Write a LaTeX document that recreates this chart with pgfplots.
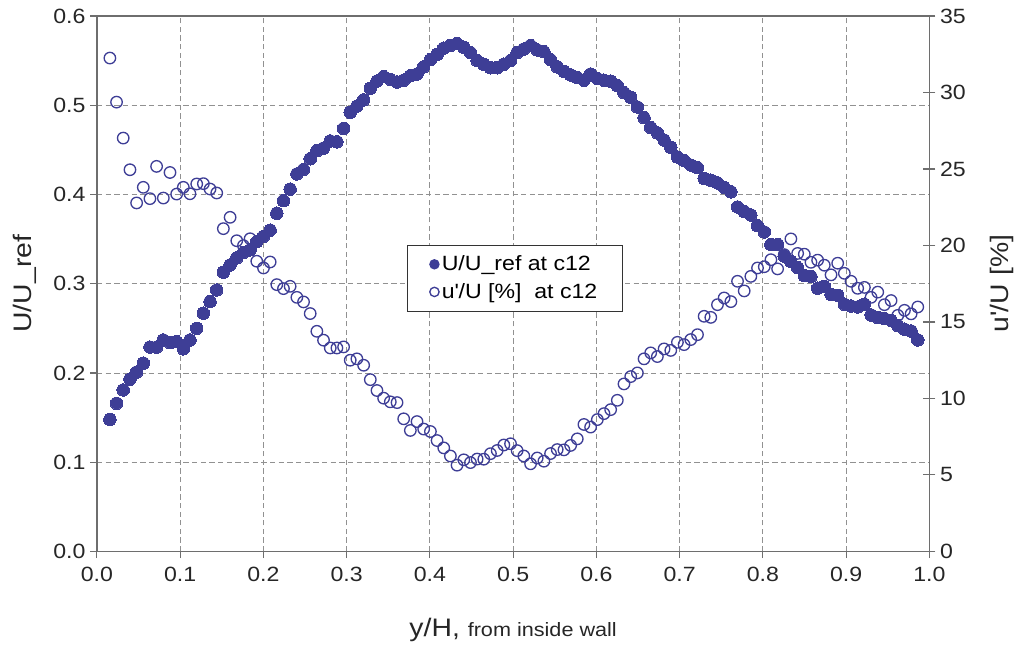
\documentclass[border=0pt]{standalone}
\usepackage{pgfplots}
\pgfplotsset{compat=1.18}
\usepackage{pgfplotstable}
\usepackage{fontspec}
\setmainfont{Liberation Sans}[FakeStretch=1.12]
\definecolor{ser}{RGB}{62,62,150}
\definecolor{gridc}{RGB}{145,145,145}
\definecolor{axc}{RGB}{110,110,110}

\pgfplotstableread{
x U up
0.0156 0.148 32.25
0.0236 0.166 29.37
0.0316 0.181 27.02
0.0397 0.193 24.95
0.0477 0.201 22.78
0.0557 0.211 23.80
0.0637 0.229 23.06
0.0717 0.229 25.17
0.0798 0.237 23.10
0.0878 0.234 24.77
0.0958 0.235 23.36
0.1038 0.227 23.80
0.1118 0.237 23.38
0.1199 0.250 24.02
0.1279 0.267 24.04
0.1359 0.280 23.69
0.1439 0.293 23.43
0.1519 0.313 21.10
0.1600 0.321 21.84
0.1680 0.329 20.31
0.1760 0.335 19.99
0.1840 0.338 20.44
0.1920 0.347 18.97
0.2001 0.353 18.53
0.2081 0.360 18.92
0.2161 0.379 17.44
0.2241 0.393 17.18
0.2321 0.406 17.33
0.2402 0.423 16.61
0.2482 0.428 16.31
0.2562 0.440 15.55
0.2642 0.449 14.39
0.2722 0.452 13.81
0.2803 0.460 13.30
0.2883 0.459 13.30
0.2963 0.474 13.37
0.3043 0.492 12.50
0.3123 0.499 12.59
0.3204 0.506 12.17
0.3284 0.519 11.23
0.3364 0.527 10.52
0.3444 0.532 10.02
0.3524 0.529 9.78
0.3605 0.526 9.73
0.3685 0.528 8.67
0.3765 0.533 7.91
0.3845 0.535 8.49
0.3925 0.543 8.00
0.4006 0.551 7.84
0.4086 0.557 7.25
0.4166 0.564 6.77
0.4246 0.567 6.24
0.4326 0.569 5.64
0.4407 0.565 5.99
0.4487 0.559 5.81
0.4567 0.550 6.04
0.4647 0.546 6.03
0.4727 0.542 6.39
0.4808 0.542 6.60
0.4888 0.546 6.96
0.4968 0.550 7.04
0.5048 0.559 6.59
0.5128 0.563 6.24
0.5209 0.567 5.73
0.5289 0.562 6.11
0.5369 0.560 5.90
0.5449 0.551 6.40
0.5529 0.543 6.66
0.5610 0.538 6.64
0.5690 0.534 6.93
0.5770 0.531 7.36
0.5850 0.528 8.30
0.5930 0.535 8.13
0.6011 0.530 8.62
0.6091 0.528 9.01
0.6171 0.527 9.27
0.6251 0.522 9.88
0.6331 0.514 10.95
0.6412 0.509 11.43
0.6492 0.498 11.67
0.6572 0.486 12.59
0.6652 0.475 12.98
0.6732 0.469 12.74
0.6813 0.461 13.24
0.6893 0.453 13.14
0.6973 0.442 13.67
0.7053 0.438 13.52
0.7133 0.433 13.85
0.7214 0.430 14.17
0.7294 0.418 15.37
0.7374 0.416 15.30
0.7454 0.413 16.13
0.7534 0.408 16.57
0.7615 0.403 16.33
0.7695 0.386 17.66
0.7775 0.381 17.03
0.7855 0.377 17.98
0.7935 0.365 18.53
0.8016 0.358 18.61
0.8096 0.344 19.07
0.8176 0.344 18.47
0.8256 0.331 19.40
0.8336 0.325 20.43
0.8417 0.318 19.48
0.8497 0.309 19.43
0.8577 0.308 18.90
0.8657 0.295 19.04
0.8737 0.297 18.71
0.8818 0.288 18.08
0.8898 0.287 18.84
0.8978 0.277 18.18
0.9058 0.275 17.66
0.9138 0.274 17.20
0.9219 0.277 17.26
0.9299 0.265 16.61
0.9379 0.262 16.95
0.9459 0.261 16.13
0.9539 0.259 16.40
0.9620 0.253 15.43
0.9700 0.249 15.76
0.9780 0.247 15.53
0.9860 0.237 15.98
}\data

\pgfplotsset{
  common/.style={
    scale only axis, width=625pt, height=402pt,
    xmin=0, xmax=1,
    /pgf/number format/assume math mode=true,
    tick label style={font=\fontsize{15.5}{18}\selectfont, text=black!85},
    label style={font=\fontsize{19}{22}\selectfont, text=black!85},
    major tick length=5pt,
  }
}

\begin{document}
\begin{tikzpicture}
\useasboundingbox (-72.75pt,-70.5pt) rectangle (691.5pt,414pt);
\begin{axis}[
  common,
  ymin=0, ymax=0.6,
  xtick={0,0.1,0.2,0.3,0.4,0.5,0.6,0.7,0.8,0.9,1.0},
  ytick={0,0.1,0.2,0.3,0.4,0.5,0.6},
  xticklabel style={yshift=-3pt, /pgf/number format/.cd, fixed, fixed zerofill, precision=1},
  yticklabel style={/pgf/number format/.cd, fixed, fixed zerofill, precision=1},
  tick align=outside,
  xtick pos=bottom, ytick pos=left,
  grid=major,
  major grid style={gridc, line width=0.7pt, dash pattern=on 4pt off 2.5pt},
  axis line style={axc, line width=1pt},
  tick style={axc, line width=0.8pt},
  ylabel={U/U\_ref},
  ylabel style={at={(axis description cs:-0.0864,0.5)}, anchor=center},
  xlabel={y/H, {\fontsize{14.5}{17}\selectfont from inside wall}},
  xlabel style={at={(axis description cs:0.5,-0.146)}, anchor=center},
]
\addplot[only marks, mark=*, mark size=4.7pt, mark options={draw=ser, fill=ser, line width=0pt}] table[x=x, y=U] {\data};
\end{axis}
\begin{axis}[
  common,
  ymin=0, ymax=35,
  axis y line*=right, axis x line=none,
  ytick={0,5,10,15,20,25,30,35},
  tick align=center,
  major tick length=9pt,
  axis line style={axc, line width=1pt},
  tick style={axc, line width=0.8pt},
  ylabel={u\textquotesingle/U [\%]},
  ylabel style={at={(axis description cs:1.0876,0.5)}, anchor=center, rotate=0},
  legend style={at={(0.372,0.573)}, anchor=north west, draw=black!80, line width=0.8pt,
    font=\fontsize{15.5}{19}\selectfont, row sep=4pt, inner xsep=17pt, inner ysep=6pt,
    cells={anchor=west}},
  legend image post style={mark size=3.5pt},
]
\addlegendimage{only marks, mark=*, mark options={draw=ser, fill=ser}}
\addlegendentry{U/U\_ref at c12}
\addplot[only marks, mark=o, mark size=4.3pt, mark options={draw=ser, line width=1pt}] table[x=x, y=up] {\data};
\addlegendentry{u\textquotesingle/U [\%]\ \ at c12}
\end{axis}
\end{tikzpicture}
\end{document}
